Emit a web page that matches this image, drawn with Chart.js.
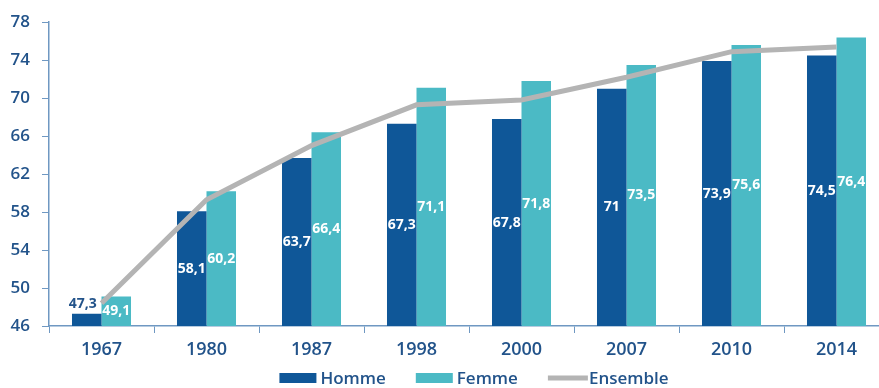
<!DOCTYPE html>
<html>
<head>
<meta charset="utf-8">
<script src="https://cdn.jsdelivr.net/npm/chart.js@4/dist/chart.umd.min.js"></script>
<style>
  html, body { margin: 0; padding: 0; overflow: hidden; background: #ffffff; }
  #wrap { width: 879px; height: 388px; overflow: hidden; }
  canvas { display: block; }
</style>
</head>
<body>
<div id="wrap"><canvas id="chart" width="889" height="388"></canvas></div>
<script>
// Espérance de vie : hommes, femmes, ensemble
const years = ['1967', '1980', '1987', '1998', '2000', '2007', '2010', '2014'];
const homme = [47.3, 58.1, 63.7, 67.3, 67.8, 71, 73.9, 74.5];
const femme = [49.1, 60.2, 66.4, 71.1, 71.8, 73.5, 75.6, 76.4];
const ensemble = [48.4, 59.3, 65.0, 69.3, 69.8, 72.2, 74.9, 75.4];
const yTicks = [46, 50, 54, 58, 62, 66, 70, 74, 78];

const COL_HOMME = '#0f5798';
const COL_FEMME = '#4bbac5';
const COL_ENS = '#b4b4b4';
const COL_TEXT = '#22538a';
const COL_AXIS = '#6f98c2';
const FONT = "'Open Sans', sans-serif";

const fmt = v => String(v).replace('.', ',');

// Value labels on the bars (white, centred on the visible part of the bar);
// a bar too short for its label gets it above, in blue
const barLabels = {
  id: 'barLabels',
  afterDatasetsDraw(chart) {
    const ctx = chart.ctx;
    const bottom = chart.chartArea.bottom;
    ctx.save();
    ctx.font = 'bold 14px ' + FONT;
    ctx.textAlign = 'center';
    ctx.textBaseline = 'middle';
    chart.data.datasets.forEach((ds, di) => {
      if (ds.type === 'line') return;
      const meta = chart.getDatasetMeta(di);
      meta.data.forEach((el, i) => {
        const top = el.y;
        const base = Math.min(el.base, bottom);
        let x = el.x, y = (top + base) / 2, color = '#ffffff';
        if (base - top < 18) {
          y = top - 10;
          x = el.x - 4;
          color = COL_TEXT;
        }
        ctx.fillStyle = color;
        ctx.fillText(fmt(ds.data[i]), x, y);
      });
    });
    ctx.restore();
  }
};

// Legend row under the axis, built from the datasets' labels and colours
const legendRow = {
  id: 'legendRow',
  afterDraw(chart) {
    const ctx = chart.ctx;
    const o = chart.options.plugins.legendRow;
    ctx.save();
    ctx.font = o.weight + ' ' + o.size + 'px ' + FONT;
    ctx.textBaseline = 'middle';
    ctx.textAlign = 'left';
    const items = chart.data.datasets.map(ds => ({
      text: ds.label,
      line: ds.type === 'line',
      color: ds.type === 'line' ? ds.borderColor : ds.backgroundColor,
      w: ctx.measureText(ds.label).width
    }));
    const total = items.reduce((s, it) => s + o.boxWidth + o.textGap + it.w, 0) + o.spacing * (items.length - 1);
    let x = o.center - total / 2;
    const y = o.y;
    items.forEach(it => {
      ctx.fillStyle = it.color;
      if (it.line) {
        ctx.fillRect(x, y - 2.5, o.boxWidth + 3, 5);
      } else {
        ctx.fillRect(x, y - o.boxHeight / 2, o.boxWidth, o.boxHeight);
      }
      x += o.boxWidth + o.textGap;
      ctx.fillStyle = COL_TEXT;
      ctx.fillText(it.text, x, y + 1);
      x += it.w + o.spacing;
    });
    ctx.restore();
  }
};

new Chart(document.getElementById('chart'), {
  type: 'bar',
  data: {
    labels: years,
    datasets: [
      { label: 'Homme', data: homme, backgroundColor: COL_HOMME, order: 1,
        categoryPercentage: 0.562, barPercentage: 1.0 },
      { label: 'Femme', data: femme, backgroundColor: COL_FEMME, order: 1,
        categoryPercentage: 0.562, barPercentage: 1.0 },
      { type: 'line', label: 'Ensemble', data: ensemble, borderColor: COL_ENS,
        backgroundColor: COL_ENS, borderWidth: 5, pointRadius: 0, tension: 0,
        fill: false, order: 0 }
    ]
  },
  options: {
    responsive: false,
    animation: false,
    devicePixelRatio: 1,
    layout: { padding: { top: 15, left: 0, right: 0, bottom: 0 } },
    plugins: {
      tooltip: { enabled: false },
      legend: { display: false },
      legendRow: { center: 474, y: 378, size: 17, weight: 600, boxWidth: 37, boxHeight: 10, textGap: 4, spacing: 30 }
    },
    scales: {
      x: {
        offset: true,
        grid: { display: true, drawOnChartArea: false, drawTicks: true, tickLength: 7,
                color: COL_AXIS, offset: true },
        border: { display: true, color: COL_AXIS, width: 1.5 },
        ticks: { color: COL_TEXT, font: { family: FONT, size: 18, weight: 600 }, padding: 6, maxRotation: 0 },
        afterFit(scale) { scale.height = 62; }
      },
      y: {
        min: 46,
        max: 78,
        grid: { display: true, drawOnChartArea: false, drawTicks: true, tickLength: 7,
                color: COL_AXIS },
        border: { display: true, color: COL_AXIS, width: 1.5 },
        afterBuildTicks(scale) { scale.ticks = yTicks.map(v => ({ value: v })); },
        ticks: { color: COL_TEXT, font: { family: FONT, size: 17, weight: 600 }, padding: 12 },
        afterFit(scale) { scale.width = 49; }
      }
    }
  },
  plugins: [barLabels, legendRow]
});
</script>
</body>
</html>
